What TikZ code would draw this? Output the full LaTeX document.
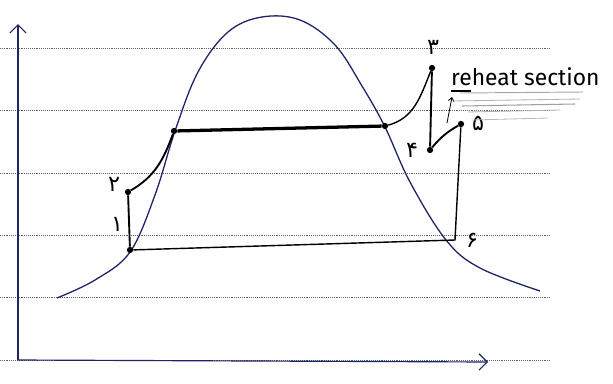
\documentclass[tikz,border=0pt]{standalone}
\usepackage{fontspec}
\usepackage{tikz}
\usetikzlibrary{arrows.meta}
\newfontfamily\fadigit[Script=Arabic]{DejaVu Sans}
\newfontfamily\handfont{Fira Sans}
\definecolor{ink}{RGB}{30,36,100}
\definecolor{rule}{RGB}{90,95,120}
\tikzset{
  pt/.style={circle,fill=black,inner sep=1.9pt},
  lbl/.style={inner sep=1pt,font=\fadigit\fontsize{19}{20}\selectfont},
  cyc/.style={black,line width=1.6pt},
}

\begin{document}
\begin{tikzpicture}[x=0.03cm,y=0.03cm]
        \useasboundingbox (0,0) rectangle (613,-383);
        \fill[white] (0,0) rectangle (613,-383);

        % ruled paper
        \foreach \yy in {48,110,173,235,297,360}
            \draw[rule,densely dotted,line width=0.6pt] (0,-\yy) -- (550,-\yy);

        % axes
        \coordinate (o) at (18,-360);
        \coordinate (ty) at (18,-24);
        \coordinate (tx) at (488,-362);
        \draw[ink,line width=1pt,-{Straight Barb[length=7pt,width=14pt]}] (o) -- (ty);
        \draw[ink,line width=1pt,-{Straight Barb[length=7pt,width=14pt]}] (o) -- (tx);

        % saturation dome
        \draw[ink,line width=1.1pt] plot[smooth,tension=0.6] coordinates {
            (57,-298) (95,-280) (130,-252) (155,-195) (175,-131) (198,-72)
            (228,-32) (262,-17) (300,-20) (335,-45) (362,-86) (385,-127)
            (410,-182) (446,-240) (480,-268) (540,-291)};

        % states
        \node[pt] (a1) at (130,-250) {};
        \node[pt] (a2) at (128,-192) {};
        \node[pt] (f) at (174,-131) {};
        \node[pt] (g) at (385,-126) {};
        \node[pt] (a3) at (432,-68) {};
        \node[pt] (a4) at (430,-150) {};
        \node[pt] (a5) at (461,-124) {};
        \coordinate (a6) at (455,-240);

        \node[lbl] at (114,-184) {۲};
        \node[lbl] at (117,-224) {۱};
        \node[lbl] at (433,-47) {۳};
        \node[lbl] at (412,-150) {۴};
        \node[lbl] at (478,-123) {۵};
        \node[lbl] at (472,-240) {۶};

        \draw[cyc] (a1) -- (a2);
        \draw[cyc] (a2) to[out=30,in=-110] (f);
        \draw[black,line width=2.8pt] (f) -- (g);
        \draw[black,line width=1.2pt] (g) to[out=15,in=-112] (a3);
        \draw[cyc] (a3) -- (a4);
        \draw[cyc] (a4) to[bend left=10] (a5);
        \draw[black,line width=1.2pt] (a5) -- (a6) -- (a1);

        % reheat note
        \node[font=\handfont\fontsize{19.5}{22}\selectfont,anchor=south west,inner sep=0pt] (rh) at (451,-86) {reheat section};
        \coordinate (ar) at (447,-123);
        \draw[black,line width=0.7pt,-{Straight Barb[length=3pt,width=5pt]}] (ar) -- (452,-97);
        \draw[black,line width=0.9pt] (451,-91) -- (471,-91);
        \draw[gray!70,line width=0.8pt] (460,-93) -- (583,-92);
        \draw[gray!60,line width=0.7pt] (452,-101) -- (580,-99);
        \draw[gray!75,line width=0.9pt] (462,-106) -- (575,-104);
        \draw[gray!60,line width=0.7pt] (468,-112) -- (560,-110);
        \draw[gray!55,line width=0.7pt] (472,-120) -- (548,-118);
    \end{tikzpicture}
\end{document}
